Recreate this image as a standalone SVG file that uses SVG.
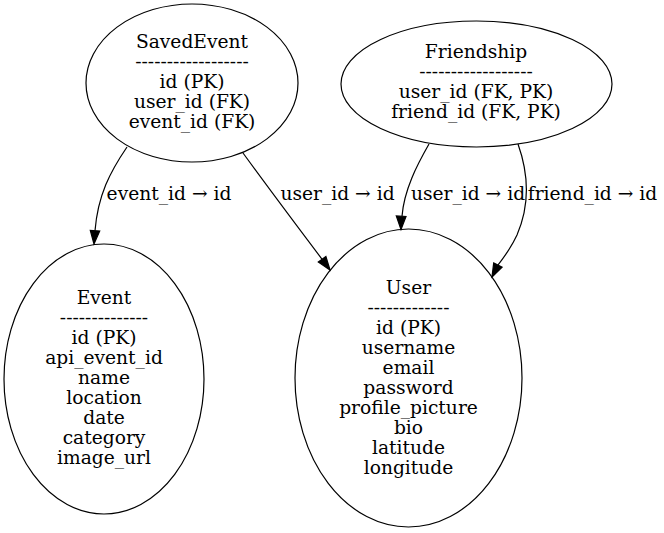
<svg xmlns="http://www.w3.org/2000/svg" width="664" height="533" viewBox="0 0 664 533">
<style>
  .node ellipse { fill: none; stroke: #000; stroke-width: 1.2; }
  text { font-family: "DejaVu Serif", serif; font-size: 18.67px; fill: #000; text-anchor: middle; }
  .edge path { fill: none; stroke: #000; stroke-width: 1.2; }
  .edge polygon { fill: #000; stroke: #000; stroke-width: 1.2; }
</style>
<rect width="664" height="533" fill="#fff"/>
<g id="SavedEvent" class="node">
  <ellipse cx="192" cy="83" rx="106" ry="79"/>
  <text x="192" y="48">SavedEvent</text>
  <text x="192" y="68">------------------</text>
  <text x="192" y="88">id (PK)</text>
  <text x="192" y="108">user_id (FK)</text>
  <text x="192" y="128">event_id (FK)</text>
</g>
<g id="Friendship" class="node">
  <ellipse cx="476.5" cy="84" rx="135.5" ry="63"/>
  <text x="476" y="58">Friendship</text>
  <text x="476" y="78">------------------</text>
  <text x="476" y="98">user_id (FK, PK)</text>
  <text x="476" y="118">friend_id (FK, PK)</text>
</g>
<g id="Event" class="node">
  <ellipse cx="104" cy="379" rx="100" ry="135"/>
  <text x="104" y="304">Event</text>
  <text x="104" y="324">--------------</text>
  <text x="104" y="344">id (PK)</text>
  <text x="104" y="364">api_event_id</text>
  <text x="104" y="384">name</text>
  <text x="104" y="404">location</text>
  <text x="104" y="424">date</text>
  <text x="104" y="444">category</text>
  <text x="104" y="464">image_url</text>
</g>
<g id="User" class="node">
  <ellipse cx="408.5" cy="378" rx="113.5" ry="149"/>
  <text x="408.5" y="294">User</text>
  <text x="408.5" y="314">-------------</text>
  <text x="408.5" y="334">id (PK)</text>
  <text x="408.5" y="354">username</text>
  <text x="408.5" y="374">email</text>
  <text x="408.5" y="394">password</text>
  <text x="408.5" y="414">profile_picture</text>
  <text x="408.5" y="434">bio</text>
  <text x="408.5" y="454">latitude</text>
  <text x="408.5" y="474">longitude</text>
</g>
<g id="connectors">
  <g class="edge" id="SavedEvent-Event">
    <path d="M127,147 C110,172 98,195 95,230.7"/>
    <polygon points="94,244 90.3,230.4 99.7,231"/>
    <text x="169" y="200">event_id → id</text>
  </g>
  <g class="edge" id="SavedEvent-User">
    <path d="M243,153 C270,190 300,230 322.1,259.3"/>
    <polygon points="330,270 325.9,256.5 318.3,262.1"/>
    <text x="337.5" y="200">user_id → id</text>
  </g>
  <g class="edge" id="Friendship-User-user">
    <path d="M429,144 C417,165 404,190 402,216.2"/>
    <polygon points="401,229.5 396.3,216 406,216.5"/>
    <text x="468" y="200">user_id → id</text>
  </g>
  <g class="edge" id="Friendship-User-friend">
    <path d="M518,144 C529,175 530,205 517,235 C511,248 505,256 497.9,265.1"/>
    <polygon points="492,277 502.1,267.2 493.7,263"/>
    <text x="592.5" y="200">friend_id → id</text>
  </g>
</g>
</svg>
